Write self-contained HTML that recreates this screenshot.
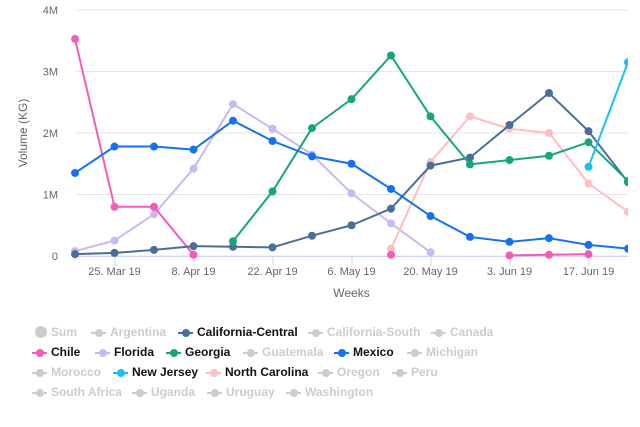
<!DOCTYPE html>
<html><head><meta charset="utf-8"><style>
body{margin:0;background:#fff;font-family:"Liberation Sans",sans-serif;}
#wrap{position:relative;width:640px;height:427px;overflow:hidden}
.lg{position:absolute;font-size:12px;font-weight:bold;white-space:nowrap;cursor:pointer}
.lg .sym{position:absolute;left:-19px;top:7px;width:15px;height:2px}
.lg .sym i{position:absolute;left:4px;top:-3px;width:8px;height:8px;border-radius:50%;background:inherit}
</style></head><body><div id="wrap">
<svg id="svg" width="640" height="320" style="position:absolute;left:0;top:0"></svg>
<div id="legend"></div>
</div>
<script>
const weeks=["18 Mar","25. Mar 19","1 Apr","8. Apr 19","15 Apr","22. Apr 19","29 Apr","6. May 19","13 May","20. May 19","27 May","3. Jun 19","10 Jun","17. Jun 19","24 Jun"];
const yTicks=[0,1,2,3,4];
const yTickLabels=["0","1M","2M","3M","4M"];
const califCentral=[0.03,0.05,0.1,0.16,0.15,0.14,0.33,0.5,0.77,1.47,1.6,2.13,2.65,2.03,1.2];
const chile=[3.53,0.8,0.8,0.02,null,null,null,null,0.02,null,null,0.01,0.02,0.03,null];
const florida=[0.08,0.25,0.68,1.42,2.47,2.07,1.65,1.02,0.53,0.06,null,null,null,null,null];
const georgia=[null,null,null,null,0.24,1.05,2.08,2.55,3.26,2.27,1.49,1.56,1.63,1.85,1.22];
const mexico=[1.35,1.78,1.78,1.73,2.2,1.87,1.62,1.5,1.09,0.65,0.31,0.23,0.29,0.18,0.12];
const newJersey=[null,null,null,null,null,null,null,null,null,null,null,null,null,1.45,3.15];
const northCarolina=[null,null,null,null,null,null,null,null,0.12,1.53,2.27,2.07,2.0,1.18,0.72];
const seriesNames=["Florida","North Carolina","Chile","California-Central","Georgia","Mexico","New Jersey"];
const seriesData=[florida,northCarolina,chile,califCentral,georgia,mexico,newJersey];
const seriesColors=["#c9b8f7","#ffbfbf","#f45bbb","#4a6d9c","#14a77b","#1571f2","#17c0f6"];
const NS="http://www.w3.org/2000/svg";
const svg=document.getElementById('svg');
const X0=75,X1=628,Y0=256,Y1=10;
const xs=i=>X0+i*(X1-X0)/14;
const ys=v=>Y0-(v/4)*(Y0-Y1);
function mk(t,a){const e=document.createElementNS(NS,t);for(const k in a)e.setAttribute(k,a[k]);svg.appendChild(e);return e;}
yTicks.forEach((t,i)=>{
 const g=mk('line',{x1:X0,x2:X1,y1:ys(t),y2:ys(t),stroke:'#e6e6e6','stroke-width':1});
 
 
 const tx=mk('text',{x:58,y:ys(t)+4,'text-anchor':'end','font-size':11,fill:'#666','font-family':'Liberation Sans'});
 tx.textContent=yTickLabels[i];
 
 
});
const xa=mk('line',{x1:X0,x2:X1,y1:Y0+0.5,y2:Y0+0.5,stroke:'#ccd6eb'});


weeks.forEach((w,i)=>{
 if(i%2===1){
  const tk=mk('line',{x1:xs(i)+0.5,x2:xs(i)+0.5,y1:Y0,y2:Y0+10,stroke:'#ccd6eb'});
  
  
  const tx=mk('text',{x:xs(i),y:Y0+19,'text-anchor':'middle','font-size':11,fill:'#666','font-family':'Liberation Sans'});
  tx.textContent=w;
  
  
 }
});
const xt=mk('text',{x:(X0+X1)/2,y:297,'text-anchor':'middle','font-size':12,fill:'#666','font-family':'Liberation Sans'});
xt.textContent='Weeks';


const yt=mk('text',{x:0,y:0,'text-anchor':'middle','font-size':12,fill:'#666','font-family':'Liberation Sans',transform:`translate(27,${(Y0+Y1)/2}) rotate(-90)`});
yt.textContent='Volume (KG)';


mk('clipPath',{id:'cp'}).appendChild(document.createElementNS(NS,'rect'));
const cr=svg.querySelector('#cp rect');cr.setAttribute('x',X0-5);cr.setAttribute('y',0);cr.setAttribute('width',X1-X0+5);cr.setAttribute('height',Y0+6);
seriesData.forEach((d,s)=>{
 const g=mk('g',{'clip-path':'url(#cp)'});
 
 
 let path='',pen=false;
 d.forEach((v,i)=>{if(v==null){pen=false;return;}path+=(pen?'L':'M')+xs(i)+','+ys(v);pen=true;});
 const p=document.createElementNS(NS,'path');
 p.setAttribute('d',path);p.setAttribute('fill','none');p.setAttribute('stroke',seriesColors[s]);p.setAttribute('stroke-width',2);
 
 
 g.appendChild(p);
 d.forEach((v,i)=>{if(v==null)return;
  const c=document.createElementNS(NS,'circle');
  c.setAttribute('cx',xs(i));c.setAttribute('cy',ys(v));c.setAttribute('r',4);c.setAttribute('fill',seriesColors[s]);
  
  
  g.appendChild(c);});
});
const legendItems=[
["Sum",51,333,null],["Argentina",110,333,null],["California-Central",197,333,"#4a6d9c"],["California-South",327,333,null],["Canada",450,333,null],
["Chile",51,353,"#f45bbb"],["Florida",114,353,"#c9b8f7"],["Georgia",185,353,"#14a77b"],["Guatemala",262,353,null],["Mexico",353,353,"#1571f2"],["Michigan",426,353,null],
["Morocco",51,373,null],["New Jersey",132,373,"#17c0f6"],["North Carolina",225,373,"#ffbfbf"],["Oregon",337,373,null],["Peru",411,373,null],
["South Africa",51,393,null],["Uganda",151,393,null],["Uruguay",226,393,null],["Washington",305,393,null]];
const lg=document.getElementById('legend');
legendItems.forEach(([n,x,y,c])=>{
 const d=document.createElement('div');d.className='lg';
 
 
 d.style.left=x+'px';d.style.top=(y-8)+'px';d.style.color=c?'#111':'#ccc';
 const s=document.createElement('span');s.className='sym';s.style.background=c||'#ccc';
 if(n==="Sum"){s.style.cssText='position:absolute;left:-16px;top:1px;width:12px;height:12px;border-radius:50%;background:#ccc';}
 else{s.appendChild(document.createElement('i'));}
 d.appendChild(s);d.appendChild(document.createTextNode(n));lg.appendChild(d);
});
</script></body></html>
